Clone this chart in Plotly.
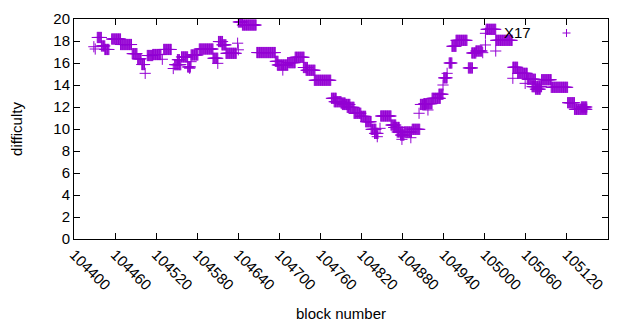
import plotly.graph_objects as go

# Runs of constant difficulty: first block, last block, difficulty
run_start = [104429, 104431, 104434, 104440, 104445, 104455, 104468, 104485, 104493, 104499,
             104504, 104507, 104515, 104529, 104531, 104545, 104547, 104551, 104557, 104569,
             104566, 104571, 104571, 104583, 104603, 104610, 104611, 104616, 104622, 104639,
             104640, 104640, 104646, 104667, 104694, 104697, 104705, 104712, 104723, 104735,
             104739, 104751, 104776, 104780, 104790, 104792, 104799, 104809, 104819, 104826,
             104834, 104839, 104843, 104847, 104848, 104863, 104867, 104872, 104879, 104877,
             104882, 104892, 104894, 104904, 104906, 104917, 104911, 104923, 104933, 104939,
             104940, 104945, 104948, 104952, 104958, 104976, 104981, 104987, 104997, 105001,
             105001, 105002, 105016, 105016, 105041, 105041, 105048, 105059, 105062, 105069,
             105074, 105083, 105097, 105121, 105131, 105141]
run_end = [104429, 104431, 104440, 104445, 104451, 104468, 104484, 104492, 104498, 104503,
           104504, 104515, 104527, 104529, 104542, 104545, 104556, 104554, 104566, 104569,
           104570, 104571, 104581, 104603, 104610, 104610, 104617, 104622, 104637, 104639,
           104640, 104646, 104666, 104694, 104698, 104712, 104705, 104723, 104736, 104741,
           104752, 104775, 104783, 104790, 104796, 104803, 104809, 104819, 104826, 104834,
           104841, 104844, 104843, 104847, 104863, 104870, 104875, 104880, 104879, 104882,
           104893, 104892, 104905, 104904, 104914, 104917, 104923, 104935, 104939, 104939,
           104945, 104945, 104952, 104958, 104974, 104982, 104987, 104996, 104997, 105001,
           105001, 105016, 105016, 105040, 105048, 105041, 105062, 105059, 105074, 105083,
           105081, 105097, 105121, 105131, 105149, 105149]
run_diff = [17.48, 17.27, 18.32, 17.55, 17.23, 18.18, 17.68, 16.85, 16.38, 15.86,
            15.06, 16.68, 16.77, 16.34, 17.23, 15.50, 15.85, 16.30, 16.55, 15.52,
            15.64, 16.12, 16.73, 17.27, 16.43, 15.97, 17.95, 17.65, 16.88, 17.80,
            17.20, 19.73, 19.45, 16.95, 16.15, 15.82, 15.36, 16.03, 16.52, 15.59,
            15.34, 14.43, 12.79, 12.48, 12.36, 12.23, 11.97, 11.43, 11.15, 10.66,
            9.97, 9.60, 9.30, 10.06, 11.18, 10.36, 10.14, 9.73, 9.06, 9.45,
            9.73, 9.21, 9.97, 11.43, 12.23, 11.73, 12.30, 12.79, 13.16, 14.00,
            14.65, 15.06, 16.00, 17.52, 18.06, 15.55, 16.91, 17.09, 16.94, 17.64,
            18.70, 19.06, 17.09, 18.06, 15.61, 14.61, 15.06, 14.15, 14.52, 13.85,
            13.62, 14.48, 13.79, 12.39, 11.79, 12.00]

x_ticks = list(range(104400, 105181, 60))
y_ticks = list(range(0, 21, 2))

blocks, diffs = [], []
for s, e, d in zip(run_start, run_end, run_diff):
    for b in range(s, e + 1):
        blocks.append(b)
        diffs.append(d)

COLOR = "#9400D3"
FONT = "Liberation Sans"
FS = 15

fig = go.Figure()
fig.add_trace(go.Scatter(
    x=blocks, y=diffs, mode="markers", name="X17",
    marker=dict(symbol="cross-thin", size=8, line=dict(width=1, color=COLOR), color=COLOR),
    showlegend=False,
))

# page offset of 8 px (body margin); plot area in page pixels: x 74..608, y 19..239
def px_x(p):
    return (p - 74) / 534.0

def px_y(p):
    return (239 - p) / 220.0

fig.add_annotation(x=px_x(533), y=px_y(33), xref="paper", yref="paper", text="X17",
                   showarrow=False, xanchor="right", yanchor="middle",
                   font=dict(family=FONT, size=FS, color="black"))
fig.add_shape(type="line", xref="paper", yref="paper",
              x0=px_x(562.5), x1=px_x(570.5), y0=px_y(33), y1=px_y(33),
              line=dict(color=COLOR, width=1))
fig.add_shape(type="line", xref="paper", yref="paper",
              x0=px_x(566.5), x1=px_x(566.5), y0=px_y(29), y1=px_y(37),
              line=dict(color=COLOR, width=1))

axis_common = dict(showline=True, linecolor="black", linewidth=1, mirror="allticks",
                   ticks="inside", ticklen=6, tickcolor="black", showgrid=False,
                   zeroline=False, tickfont=dict(family=FONT, size=FS, color="black"))

fig.update_xaxes(range=[104400, 105180], tickvals=x_ticks, ticktext=[str(v) for v in x_ticks],
                 tickangle=45, title=dict(text="block number", font=dict(family=FONT, size=FS, color="black"), standoff=18),
                 **axis_common)
fig.update_yaxes(range=[0, 20], tickvals=y_ticks, ticktext=[str(v) for v in y_ticks],
                 title=dict(text="difficulty", font=dict(family=FONT, size=FS, color="black"), standoff=27),
                 **axis_common)

fig.update_layout(width=624, height=314, margin=dict(l=66, r=24, t=11, b=83, autoexpand=False),
                  plot_bgcolor="white", paper_bgcolor="white",
                  font=dict(family=FONT, size=FS, color="black"))

fig.write_html("out.html")
